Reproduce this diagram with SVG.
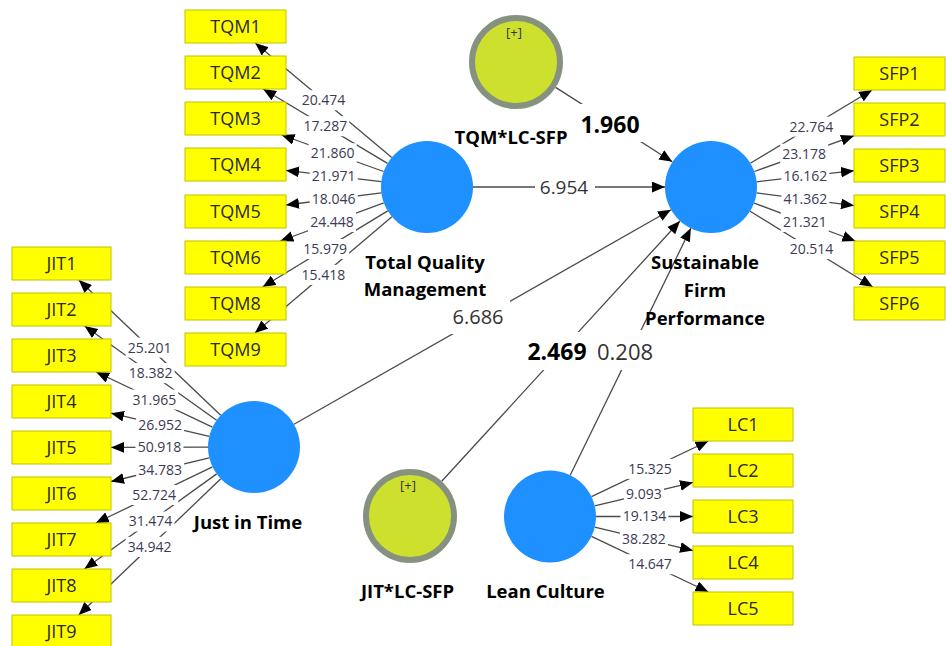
<svg xmlns="http://www.w3.org/2000/svg" width="946" height="646" viewBox="0 0 946 646">
<style>
.ln{stroke:#4a4a4a;stroke-width:1.3;fill:none;marker-end:url(#ah)}
.lb{fill:#fff}
.ol{font-family:"Open Sans","Noto Sans",sans-serif;font-size:14px;fill:#3c3a55;text-anchor:middle}
.pl{font-family:"Open Sans","Noto Sans",sans-serif;fill:#333;text-anchor:middle}
.plb{font-family:"Open Sans","Noto Sans",sans-serif;font-weight:bold;fill:#000;text-anchor:middle}
.box{fill:#ffff00;stroke:#c2c200;stroke-width:1}
.bt{font-family:"Open Sans","Noto Sans",sans-serif;font-size:18px;fill:#2a2a2a;text-anchor:middle}
.lv{fill:#1e90ff}
.mod{fill:#cde02e;stroke:#86927f;stroke-width:6}
.nl{font-family:"Open Sans","Noto Sans",sans-serif;font-size:18.5px;font-weight:bold;fill:#000;text-anchor:middle}
.pm{font-family:"Open Sans","Noto Sans",sans-serif;font-size:13px;fill:#333;text-anchor:middle}
</style>
<defs>
<marker id="ah" viewBox="0 0 12 10" refX="12" refY="5" markerWidth="13" markerHeight="11" markerUnits="userSpaceOnUse" orient="auto"><path d="M0,0 L12,5 L0,10 z" fill="#000"/></marker>
</defs>
<rect width="946" height="646" fill="#fff"/>
<g id="connectors">
<path class="ln" d="M473,187 L665,187"/>
<path class="ln" d="M294,424.3 L671,209.7"/>
<path class="ln" d="M555.6,87.4 L672.3,161.8"/>
<path class="ln" d="M441.7,481.3 L680,221"/>
<path class="ln" d="M570.2,475.2 L690.8,228.3"/>
<path class="ln" d="M391.8,157.5 L255.2,43"/>
<path class="ln" d="M387.5,163.4 L263.1,89"/>
<path class="ln" d="M383.7,171.5 L281.6,135"/>
<path class="ln" d="M381.3,181.6 L286,170.4"/>
<path class="ln" d="M381.4,192.8 L286,205"/>
<path class="ln" d="M383.8,202.9 L280.3,241"/>
<path class="ln" d="M387.7,210.9 L262.6,287"/>
<path class="ln" d="M391.9,216.8 L254.9,333"/>
<path class="ln" d="M220.7,415.3 L78.8,280"/>
<path class="ln" d="M216.6,420.3 L84.6,326"/>
<path class="ln" d="M212.4,427.2 L96.2,372"/>
<path class="ln" d="M209.2,436.4 L111,413.2"/>
<path class="ln" d="M208,447.1 L111,447.4"/>
<path class="ln" d="M209.3,457.8 L111,481.5"/>
<path class="ln" d="M212.5,466.9 L95.8,523"/>
<path class="ln" d="M216.7,473.9 L84.4,569"/>
<path class="ln" d="M220.8,478.8 L78.7,615"/>
<path class="ln" d="M750.4,163.3 L872.1,90"/>
<path class="ln" d="M754.3,171.5 L854,135.8"/>
<path class="ln" d="M756.7,181.8 L854,170.7"/>
<path class="ln" d="M756.6,192.9 L854,205.6"/>
<path class="ln" d="M754.1,203.1 L855.4,241"/>
<path class="ln" d="M750.1,211.2 L872.8,287"/>
<path class="ln" d="M591.5,496.7 L708.4,441"/>
<path class="ln" d="M594.7,505.8 L693,482.4"/>
<path class="ln" d="M596,516.5 L693,516.5"/>
<path class="ln" d="M594.7,527.2 L693,550.6"/>
<path class="ln" d="M591.5,536.3 L708.4,592"/>
<rect class="lb" x="535" y="177" width="60" height="20"/>
<rect class="lb" x="450" y="300" width="60" height="34"/>
<rect class="lb" x="578" y="104" width="64" height="38"/>
<rect class="lb" x="524" y="332" width="67" height="38"/>
<rect class="lb" x="596" y="330" width="60" height="40"/>
<rect class="lb" x="299.5" y="90.2" width="48" height="20"/>
<rect class="lb" x="301.3" y="116.2" width="48" height="20"/>
<rect class="lb" x="308.7" y="143.3" width="48" height="20"/>
<rect class="lb" x="309.7" y="166" width="48" height="20"/>
<rect class="lb" x="309.7" y="188.9" width="48" height="20"/>
<rect class="lb" x="308" y="212" width="48" height="20"/>
<rect class="lb" x="301.2" y="239" width="48" height="20"/>
<rect class="lb" x="299.4" y="264.9" width="48" height="20"/>
<rect class="lb" x="125.7" y="337.6" width="48" height="20"/>
<rect class="lb" x="126.6" y="363.1" width="48" height="20"/>
<rect class="lb" x="130.3" y="389.6" width="48" height="20"/>
<rect class="lb" x="136.1" y="414.8" width="48" height="20"/>
<rect class="lb" x="135.5" y="437.3" width="48" height="20"/>
<rect class="lb" x="136.2" y="459.7" width="48" height="20"/>
<rect class="lb" x="130.2" y="485" width="48" height="20"/>
<rect class="lb" x="126.5" y="511.5" width="48" height="20"/>
<rect class="lb" x="125.7" y="536.9" width="48" height="20"/>
<rect class="lb" x="787.3" y="116.7" width="48" height="20"/>
<rect class="lb" x="780.2" y="143.7" width="48" height="20"/>
<rect class="lb" x="781.4" y="166.3" width="48" height="20"/>
<rect class="lb" x="781.3" y="189.3" width="48" height="20"/>
<rect class="lb" x="780.8" y="212" width="48" height="20"/>
<rect class="lb" x="787.5" y="239.1" width="48" height="20"/>
<rect class="lb" x="626" y="458.9" width="48" height="20"/>
<rect class="lb" x="623.9" y="484.1" width="40" height="20"/>
<rect class="lb" x="620.5" y="506.5" width="48" height="20"/>
<rect class="lb" x="619.9" y="528.9" width="48" height="20"/>
<rect class="lb" x="626" y="554.2" width="48" height="20"/>
<text class="pl" x="564" y="187" dy="0.35em" font-size="19">6.954</text>
<text class="pl" x="478" y="317" dy="0.35em" font-size="20">6.686</text>
<text class="plb" x="610" y="125" dy="0.35em" font-size="23">1.960</text>
<text class="plb" x="557" y="352" dy="0.35em" font-size="23">2.469</text>
<text class="pl" x="625" y="352" dy="0.35em" font-size="22">0.208</text>
<text class="ol" x="323.5" y="100.2" dy="0.35em">20.474</text>
<text class="ol" x="325.3" y="126.2" dy="0.35em">17.287</text>
<text class="ol" x="332.7" y="153.3" dy="0.35em">21.860</text>
<text class="ol" x="333.7" y="176" dy="0.35em">21.971</text>
<text class="ol" x="333.7" y="198.9" dy="0.35em">18.046</text>
<text class="ol" x="332" y="222" dy="0.35em">24.448</text>
<text class="ol" x="325.2" y="249" dy="0.35em">15.979</text>
<text class="ol" x="323.4" y="274.9" dy="0.35em">15.418</text>
<text class="ol" x="149.7" y="347.6" dy="0.35em">25.201</text>
<text class="ol" x="150.6" y="373.1" dy="0.35em">18.382</text>
<text class="ol" x="154.3" y="399.6" dy="0.35em">31.965</text>
<text class="ol" x="160.1" y="424.8" dy="0.35em">26.952</text>
<text class="ol" x="159.5" y="447.3" dy="0.35em">50.918</text>
<text class="ol" x="160.2" y="469.7" dy="0.35em">34.783</text>
<text class="ol" x="154.2" y="495" dy="0.35em">52.724</text>
<text class="ol" x="150.5" y="521.5" dy="0.35em">31.474</text>
<text class="ol" x="149.7" y="546.9" dy="0.35em">34.942</text>
<text class="ol" x="811.3" y="126.7" dy="0.35em">22.764</text>
<text class="ol" x="804.2" y="153.7" dy="0.35em">23.178</text>
<text class="ol" x="805.4" y="176.3" dy="0.35em">16.162</text>
<text class="ol" x="805.3" y="199.3" dy="0.35em">41.362</text>
<text class="ol" x="804.8" y="222" dy="0.35em">21.321</text>
<text class="ol" x="811.5" y="249.1" dy="0.35em">20.514</text>
<text class="ol" x="650" y="468.9" dy="0.35em">15.325</text>
<text class="ol" x="643.9" y="494.1" dy="0.35em">9.093</text>
<text class="ol" x="644.5" y="516.5" dy="0.35em">19.134</text>
<text class="ol" x="643.9" y="538.9" dy="0.35em">38.282</text>
<text class="ol" x="650" y="564.2" dy="0.35em">14.647</text>
</g>
<g id="TQM">
<circle class="lv" cx="427" cy="187" r="46"/>
<text class="nl" x="425" y="269">Total Quality</text>
<text class="nl" x="425" y="296">Management</text>
</g>
<g id="SFP">
<circle class="lv" cx="711" cy="187" r="46"/>
<text class="nl" x="705" y="269">Sustainable</text>
<text class="nl" x="705" y="297">Firm</text>
<text class="nl" x="705" y="325">Performance</text>
</g>
<g id="JIT">
<circle class="lv" cx="254" cy="447" r="46"/>
<text class="nl" x="248" y="529">Just in Time</text>
</g>
<g id="LC">
<circle class="lv" cx="550" cy="516.5" r="46"/>
<text class="nl" x="545.5" y="598">Lean Culture</text>
</g>
<g id="TQMxLC">
<circle class="mod" cx="516" cy="62" r="44"/>
<text class="pm" x="514" y="37">[+]</text>
<text class="nl" x="511" y="144">TQM*LC-SFP</text>
</g>
<g id="JITxLC">
<circle class="mod" cx="410" cy="516" r="44"/>
<text class="pm" x="408" y="490">[+]</text>
<text class="nl" x="407.5" y="598">JIT*LC-SFP</text>
</g>
<g id="TQM1"><rect class="box" x="185" y="10" width="101" height="33"/><text class="bt" x="235.5" y="33">TQM1</text></g>
<g id="TQM2"><rect class="box" x="185" y="56" width="101" height="33"/><text class="bt" x="235.5" y="79">TQM2</text></g>
<g id="TQM3"><rect class="box" x="185" y="102" width="101" height="33"/><text class="bt" x="235.5" y="125">TQM3</text></g>
<g id="TQM4"><rect class="box" x="185" y="148" width="101" height="33"/><text class="bt" x="235.5" y="171">TQM4</text></g>
<g id="TQM5"><rect class="box" x="185" y="195" width="101" height="33"/><text class="bt" x="235.5" y="218">TQM5</text></g>
<g id="TQM6"><rect class="box" x="185" y="241" width="101" height="33"/><text class="bt" x="235.5" y="264">TQM6</text></g>
<g id="TQM8"><rect class="box" x="185" y="287" width="101" height="33"/><text class="bt" x="235.5" y="310">TQM8</text></g>
<g id="TQM9"><rect class="box" x="185" y="333" width="101" height="33"/><text class="bt" x="235.5" y="356">TQM9</text></g>
<g id="JIT1"><rect class="box" x="12" y="247" width="99" height="33"/><text class="bt" x="61.5" y="270">JIT1</text></g>
<g id="JIT2"><rect class="box" x="12" y="293" width="99" height="33"/><text class="bt" x="61.5" y="316">JIT2</text></g>
<g id="JIT3"><rect class="box" x="12" y="339" width="99" height="33"/><text class="bt" x="61.5" y="362">JIT3</text></g>
<g id="JIT4"><rect class="box" x="12" y="385" width="99" height="33"/><text class="bt" x="61.5" y="408">JIT4</text></g>
<g id="JIT5"><rect class="box" x="12" y="431" width="99" height="33"/><text class="bt" x="61.5" y="454">JIT5</text></g>
<g id="JIT6"><rect class="box" x="12" y="477" width="99" height="33"/><text class="bt" x="61.5" y="500">JIT6</text></g>
<g id="JIT7"><rect class="box" x="12" y="523" width="99" height="33"/><text class="bt" x="61.5" y="546">JIT7</text></g>
<g id="JIT8"><rect class="box" x="12" y="569" width="99" height="33"/><text class="bt" x="61.5" y="592">JIT8</text></g>
<g id="JIT9"><rect class="box" x="12" y="615" width="99" height="33"/><text class="bt" x="61.5" y="638">JIT9</text></g>
<g id="SFP1"><rect class="box" x="854" y="57" width="91" height="33"/><text class="bt" x="899.5" y="80">SFP1</text></g>
<g id="SFP2"><rect class="box" x="854" y="103" width="91" height="33"/><text class="bt" x="899.5" y="126">SFP2</text></g>
<g id="SFP3"><rect class="box" x="854" y="149" width="91" height="33"/><text class="bt" x="899.5" y="172">SFP3</text></g>
<g id="SFP4"><rect class="box" x="854" y="195" width="91" height="33"/><text class="bt" x="899.5" y="218">SFP4</text></g>
<g id="SFP5"><rect class="box" x="854" y="241" width="91" height="33"/><text class="bt" x="899.5" y="264">SFP5</text></g>
<g id="SFP6"><rect class="box" x="854" y="287" width="91" height="33"/><text class="bt" x="899.5" y="310">SFP6</text></g>
<g id="LC1"><rect class="box" x="693" y="408" width="100" height="33"/><text class="bt" x="743" y="431">LC1</text></g>
<g id="LC2"><rect class="box" x="693" y="454" width="100" height="33"/><text class="bt" x="743" y="477">LC2</text></g>
<g id="LC3"><rect class="box" x="693" y="500" width="100" height="33"/><text class="bt" x="743" y="523">LC3</text></g>
<g id="LC4"><rect class="box" x="693" y="546" width="100" height="33"/><text class="bt" x="743" y="569">LC4</text></g>
<g id="LC5"><rect class="box" x="693" y="592" width="100" height="33"/><text class="bt" x="743" y="615">LC5</text></g>
</svg>
